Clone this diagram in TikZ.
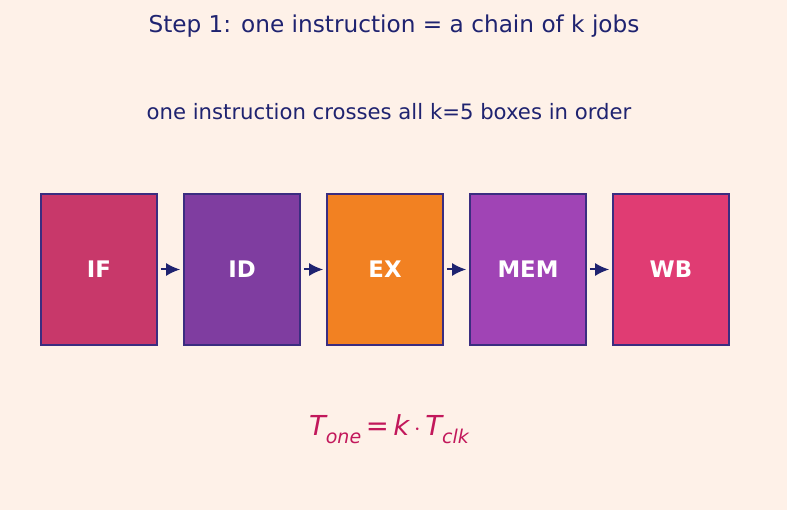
\documentclass[tikz,border=0pt]{standalone}
\usepackage{amsmath, amssymb}
\usepackage{xcolor}
\usepackage{fontspec}
\setmainfont{DejaVu Sans}
\usepackage{tikz}
\usetikzlibrary{arrows.meta}

\definecolor{bg}{HTML}{FEF1E8}
\definecolor{ink}{HTML}{1F2370}
\definecolor{edge}{HTML}{3B2D80}
\definecolor{cIF}{HTML}{C8386A}
\definecolor{cID}{HTML}{7F3DA0}
\definecolor{cEX}{HTML}{F28122}
\definecolor{cMEM}{HTML}{A044B5}
\definecolor{cWB}{HTML}{E03C73}
\definecolor{formula}{HTML}{C2185B}

\newcommand{\sub}[1]{\raisebox{-0.3em}{\fontsize{19}{19}\selectfont\itshape #1}}

\tikzset{
  stage/.style={draw=edge, line width=1.6pt, minimum width=116pt, minimum height=151pt,
    inner sep=0pt, text=white, font=\fontsize{22.8}{23}\selectfont\bfseries},
  flow/.style={draw=ink, line width=2pt, -{Latex[length=14pt,width=13pt]}}
}

\begin{document}
\begin{tikzpicture}[x=1pt, y=-1pt]
  \fill[bg] (0,0) rectangle (787,510);
  \useasboundingbox (0,0) rectangle (787,510);
  \node[text=ink, font=\fontsize{23.2}{24}\selectfont] (title) at (394,26) {Step 1: one instruction = a chain of k jobs};
  \node[text=ink, font=\fontsize{21.2}{22}\selectfont] (sub) at (389,112) {one instruction crosses all k=5 boxes in order};
  \node[stage, fill=cIF] (if) at (99,269.5) {IF};
  \node[stage, fill=cID] (id) at (242,269.5) {ID};
  \node[stage, fill=cEX] (ex) at (385,269.5) {EX};
  \node[stage, fill=cMEM] (mem) at (528,269.5) {MEM};
  \node[stage, fill=cWB] (wb) at (671,269.5) {WB};
  \draw[flow] ([xshift=3pt]if.east) -- ([xshift=-3pt]id.west);
  \draw[flow] ([xshift=3pt]id.east) -- ([xshift=-3pt]ex.west);
  \draw[flow] ([xshift=3pt]ex.east) -- ([xshift=-3pt]mem.west);
  \draw[flow] ([xshift=3pt]mem.east) -- ([xshift=-3pt]wb.west);
  \node[text=formula, font=\fontsize{27.5}{28}\selectfont] (eq) at (389,429)
    {{\itshape T}\sub{one}\,=\,{\itshape k}\,$\cdot$\,{\itshape T}\sub{clk}};
\end{tikzpicture}
\end{document}
